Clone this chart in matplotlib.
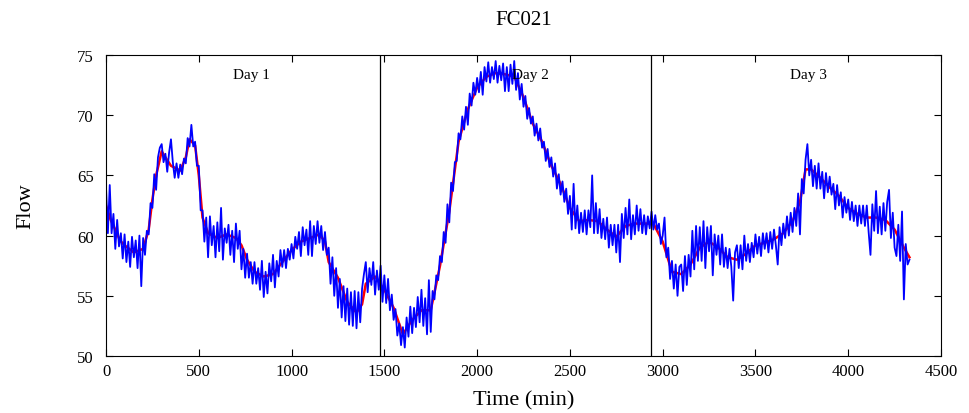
import numpy as np
import matplotlib
matplotlib.use("Agg")
import matplotlib.pyplot as plt

blue_step = 10
blue_flow = [
    64.0, 60.2, 64.2, 60.2, 61.8, 58.9, 61.3, 59.1, 60.2, 58.1,
    60.1, 57.8, 59.5, 57.4, 59.9, 58.2, 59.6, 57.3, 60.0, 55.8,
    59.8, 58.4, 60.4, 60.1, 62.7, 62.3, 65.1, 63.8, 66.5, 67.3,
    67.6, 66.1, 66.8, 65.3, 66.9, 68.0, 66.1, 64.8, 66.0, 64.8,
    65.9, 65.1, 66.4, 66.0, 68.1, 67.4, 69.2, 67.4, 67.8, 65.8,
    65.8, 62.1, 62.1, 59.5, 61.5, 58.2, 61.6, 59.2, 60.8, 58.2,
    61.1, 58.7, 62.3, 58.0, 60.6, 59.4, 60.9, 58.4, 60.4, 57.8,
    61.0, 58.9, 60.4, 57.2, 58.9, 56.5, 58.5, 56.5, 57.8, 56.0,
    57.8, 56.0, 57.3, 55.5, 57.9, 54.9, 57.0, 55.2, 57.7, 56.2,
    58.4, 55.7, 57.9, 56.6, 58.8, 57.4, 58.8, 57.3, 58.9, 58.0,
    59.3, 58.1, 59.9, 58.9, 60.3, 58.3, 60.7, 59.2, 60.5, 58.4,
    61.2, 58.3, 60.8, 59.3, 61.2, 59.4, 60.8, 58.8, 60.3, 58.4,
    59.0, 56.0, 58.2, 55.0, 57.3, 54.0, 56.4, 53.2, 55.8, 52.9,
    55.6, 52.6, 55.3, 52.5, 55.4, 52.3, 55.3, 52.8, 55.6, 56.8,
    57.8, 55.3, 57.3, 55.9, 57.8, 55.1, 57.1, 55.5, 57.5, 54.5,
    56.7, 54.4, 56.4, 53.8, 55.1, 53.0, 53.9, 51.7, 52.7, 50.9,
    52.4, 50.7, 53.2, 51.6, 54.1, 51.9, 54.0, 52.4, 54.9, 52.8,
    55.5, 52.5, 54.8, 51.8, 56.3, 52.0, 55.4, 54.7, 56.7, 56.3,
    58.3, 57.8, 60.3, 59.4, 62.6, 61.1, 64.4, 63.7, 66.1, 66.2,
    68.5, 68.0, 69.9, 68.8, 70.7, 69.2, 71.8, 70.8, 72.7, 71.7,
    73.1, 71.9, 73.6, 71.7, 74.0, 72.8, 74.4, 72.7, 74.0, 73.0,
    74.5, 72.7, 74.1, 72.9, 74.3, 72.0, 74.0, 72.0, 74.2, 72.6,
    74.5, 72.1, 73.5, 71.3, 72.6, 70.7, 71.6, 69.7, 70.6, 69.3,
    69.9, 68.3, 69.3, 67.9, 68.9, 67.3, 67.8, 66.2, 67.2, 65.7,
    66.5, 64.9, 66.0, 63.9, 65.1, 63.4, 64.5, 62.8, 63.9, 61.8,
    63.3, 60.5, 64.3, 60.6, 62.5, 60.2, 61.9, 60.3, 62.1, 60.1,
    62.1, 60.7, 65.0, 60.2, 62.7, 60.2, 62.2, 59.8, 61.4, 59.7,
    61.5, 59.0, 60.9, 59.2, 60.9, 58.6, 60.9, 57.8, 61.8, 59.8,
    62.3, 60.1, 63.0, 59.7, 61.7, 60.1, 62.5, 60.4, 62.2, 60.2,
    61.7, 60.1, 61.6, 60.6, 62.0, 60.5, 61.7, 60.5, 61.0, 59.3,
    60.0, 61.5, 58.2, 59.0, 56.4, 57.9, 55.6, 57.6, 55.0, 57.4,
    57.6, 55.4, 58.3, 55.9, 58.4, 56.6, 60.4, 57.2, 60.8, 57.9,
    60.7, 57.9, 61.2, 57.3, 60.7, 58.7, 60.8, 56.7, 60.1, 58.4,
    60.0, 57.6, 60.1, 57.4, 59.0, 57.3, 58.9, 57.4, 54.6, 58.6,
    59.2, 57.3, 59.2, 57.2, 60.0, 57.9, 59.3, 57.8, 59.4, 58.2,
    60.1, 58.5, 59.9, 58.3, 60.2, 58.9, 60.2, 58.6, 60.3, 58.9,
    60.5, 59.2, 57.6, 60.7, 59.2, 61.0, 59.8, 61.6, 60.0, 61.9,
    60.3, 62.3, 60.8, 63.5, 60.1, 64.7, 63.5, 66.3, 67.6, 65.0,
    66.3, 64.1, 65.8, 63.9, 66.0, 63.9, 65.3, 63.1, 65.2, 63.6,
    64.9, 63.4, 64.3, 62.2, 64.2, 62.5, 63.6, 61.5, 63.2, 61.9,
    63.0, 61.3, 62.8, 61.2, 62.5, 60.8, 62.5, 61.0, 62.5, 60.8,
    62.5, 60.3, 58.4, 62.6, 60.4, 63.7, 60.2, 62.4, 60.1, 62.7,
    60.4, 62.8, 63.8, 59.8, 61.9, 59.0, 58.3, 60.9, 57.9, 62.0,
    54.7, 59.3, 57.6, 58.0,
]
blue_time = np.arange(len(blue_flow)) * blue_step

# red series: smoother flow estimate
red_time = [0, 25, 50, 75, 100, 150, 200, 230, 250, 270, 300, 320, 350, 400,
            430, 450, 480, 500, 520, 550, 600, 650, 700, 730, 760, 800, 850,
            900, 950, 1000, 1050, 1100, 1150, 1180, 1200, 1250, 1300, 1350,
            1380, 1400, 1450, 1500, 1550, 1600, 1650, 1700, 1750, 1780, 1800,
            1850, 1900, 1950, 2000, 2050, 2100, 2150, 2200, 2250, 2300, 2350,
            2400, 2450, 2500, 2550, 2600, 2650, 2700, 2750, 2800, 2850, 2900,
            2950, 3000, 3050, 3100, 3150, 3200, 3250, 3300, 3350, 3400, 3450,
            3500, 3550, 3600, 3650, 3700, 3740, 3770, 3800, 3850, 3900, 3950,
            4000, 4050, 4100, 4150, 4200, 4250, 4300, 4330]
red_flow = [62.5, 61.3, 60.5, 59.6, 59.2, 58.6, 58.9, 60.5, 63.0, 65.0, 67.0,
            66.5, 65.8, 65.4, 66.5, 68.0, 67.5, 65.0, 61.5, 60.2, 59.8, 60.1,
            59.8, 59.2, 58.0, 57.0, 56.6, 56.8, 57.8, 58.8, 59.5, 59.8, 60.1,
            59.5, 57.8, 56.5, 54.5, 53.6, 54.3, 56.0, 56.6, 55.5, 54.0, 51.8,
            53.0, 53.8, 53.8, 56.0, 57.5, 62.0, 67.8, 70.5, 72.3, 73.2, 73.5,
            73.4, 73.2, 71.5, 69.3, 67.8, 65.8, 64.3, 62.3, 61.2, 61.3, 61.2,
            60.5, 59.9, 60.8, 61.0, 61.0, 61.0, 59.5, 57.0, 56.8, 57.6, 59.0,
            59.5, 59.0, 58.2, 58.0, 58.5, 59.2, 59.4, 59.7, 60.2, 61.2, 62.8,
            65.5, 65.5, 64.8, 64.0, 63.3, 62.3, 61.8, 61.5, 61.5, 61.3, 60.5,
            59.0, 58.2]

day_bounds = [1477, 2935]
day_labels = ["Day 1", "Day 2", "Day 3"]
day_label_x = [782, 2286, 3785]

plt.rcParams['font.family'] = ['Liberation Serif', 'DejaVu Serif']

fig = plt.figure(figsize=(9.7, 4.14), dpi=100)
ax = fig.add_axes([0.1093, 0.1377, 0.8608, 0.727])

ax.plot(red_time, red_flow, color='red', lw=1.8)
ax.plot(blue_time, blue_flow, color='blue', lw=1.3)

for b in day_bounds:
    ax.axvline(b, color='black', lw=0.9)
for lab, x in zip(day_labels, day_label_x):
    ax.text(x, 73.4, lab, ha='center', va='center', fontsize=11)

ax.set_xlim(0, 4500)
ax.set_ylim(50, 75)
ax.set_xticks(np.arange(0, 4501, 500))
ax.set_yticks(np.arange(50, 76, 5))
ax.tick_params(direction='in', top=True, right=True, length=5, labelsize=12)
ax.tick_params(axis='y', pad=9)
ax.tick_params(axis='x', pad=5)

ax.set_title("FC021", fontsize=15, pad=22)
ax.set_xlabel("Time (min)", fontsize=16, labelpad=8)
ax.set_ylabel("Flow", fontsize=16, labelpad=30)

fig.savefig("out.png", dpi=100)
